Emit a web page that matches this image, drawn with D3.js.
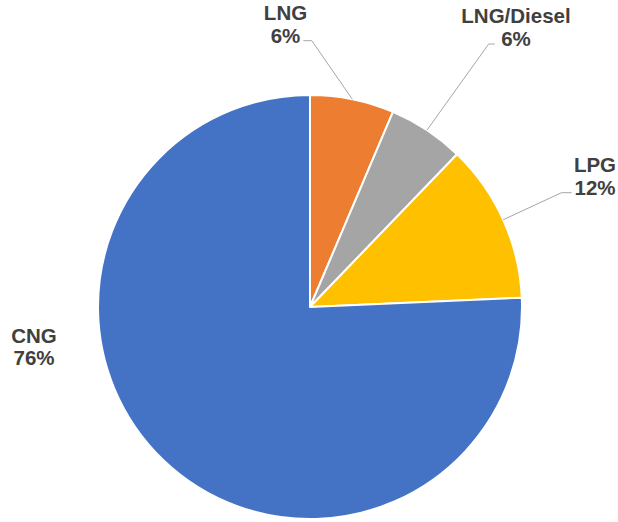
<!DOCTYPE html>
<html>
<head>
<meta charset="utf-8">
<script src="https://cdn.jsdelivr.net/npm/d3@7"></script>
<style>
  body { margin: 0; background: #fff; }
  svg text { font-family: "Liberation Sans", Arial, sans-serif; font-weight: bold; fill: #404040; }
</style>
</head>
<body>
<div id="chart"></div>
<script>
// fuel types and their shares (in %)
var categories = ["LNG", "LNG/Diesel", "LPG", "CNG"];
var shares = [6.4, 5.8, 12.1, 75.7];
var colours = ["#ED7D31", "#A5A5A5", "#FFC000", "#4472C4"];

// label placement: centre x and first baseline of each label
var labelPos = [[285.5, 20], [516, 23.3], [595, 172], [34, 342.5]];
// leader line: gap from the "%" text and length of the flat bit (null = no leader)
var leaderGap = [3, 6.5, 3, null];
var leaderFlat = [8.5, 6, 10, null];

var width = 618, height = 522;
var cx = 310, cy = 307, radius = 212;
var lineHeight = 22.7;

var svg = d3.select("#chart").append("svg")
    .attr("width", width)
    .attr("height", height);

var data = categories.map(function(c, i) {
  return {name: c, value: shares[i], colour: colours[i], label: labelPos[i],
          gap: leaderGap[i], flat: leaderFlat[i]};
});

var total = d3.sum(shares);

var pie = d3.pie()
    .sort(null)
    .value(function(d) { return d.value; });

var arc = d3.arc().innerRadius(0).outerRadius(radius);
var edgeArc = d3.arc().innerRadius(radius).outerRadius(radius);

var slices = pie(data);

var g = svg.append("g").attr("transform", "translate(" + cx + "," + cy + ")");

g.selectAll("path.slice")
  .data(slices)
  .enter()
  .append("path")
  .attr("class", "slice")
  .attr("d", arc)
  .style("fill", function(d) { return d.data.colour; })
  .style("stroke", "#fff")
  .style("stroke-width", 2)
  .style("stroke-linejoin", "round");

// labels: name on the first line, rounded share on the second
var labels = svg.selectAll("text.lbl")
  .data(slices)
  .enter()
  .append("text")
  .attr("class", "lbl")
  .attr("text-anchor", "middle")
  .style("font-size", "20.5px");

labels.append("tspan")
  .attr("x", function(d) { return d.data.label[0]; })
  .attr("y", function(d) { return d.data.label[1]; })
  .text(function(d) { return d.data.name; });

var pct = labels.append("tspan")
  .attr("x", function(d) { return d.data.label[0]; })
  .attr("y", function(d) { return d.data.label[1] + lineHeight; })
  .text(function(d) { return Math.round(d.data.value / total * 100) + "%"; });

// leader lines from the middle of each slice's rim to the "%" line
pct.each(function(d) {
  if (d.data.gap === null) return;
  var w = this.getComputedTextLength();
  var p = edgeArc.centroid(d);
  var mid = (d.startAngle + d.endAngle) / 2;
  var ly = d.data.label[1] + lineHeight - 2 - cy;
  var lx, hx;
  if (mid < 0.25) {   // label sits to the left of its line
    lx = d.data.label[0] + w / 2 + d.data.gap - cx;
    hx = lx + d.data.flat;
  } else {
    lx = d.data.label[0] - w / 2 - d.data.gap - cx;
    hx = lx - d.data.flat;
  }
  g.append("polyline")
    .attr("points", [p, [hx, ly], [lx, ly]].map(function(q) { return q.join(","); }).join(" "))
    .style("fill", "none")
    .style("stroke", "#A6A6A6")
    .style("stroke-width", 1);
});
</script>
</body>
</html>
